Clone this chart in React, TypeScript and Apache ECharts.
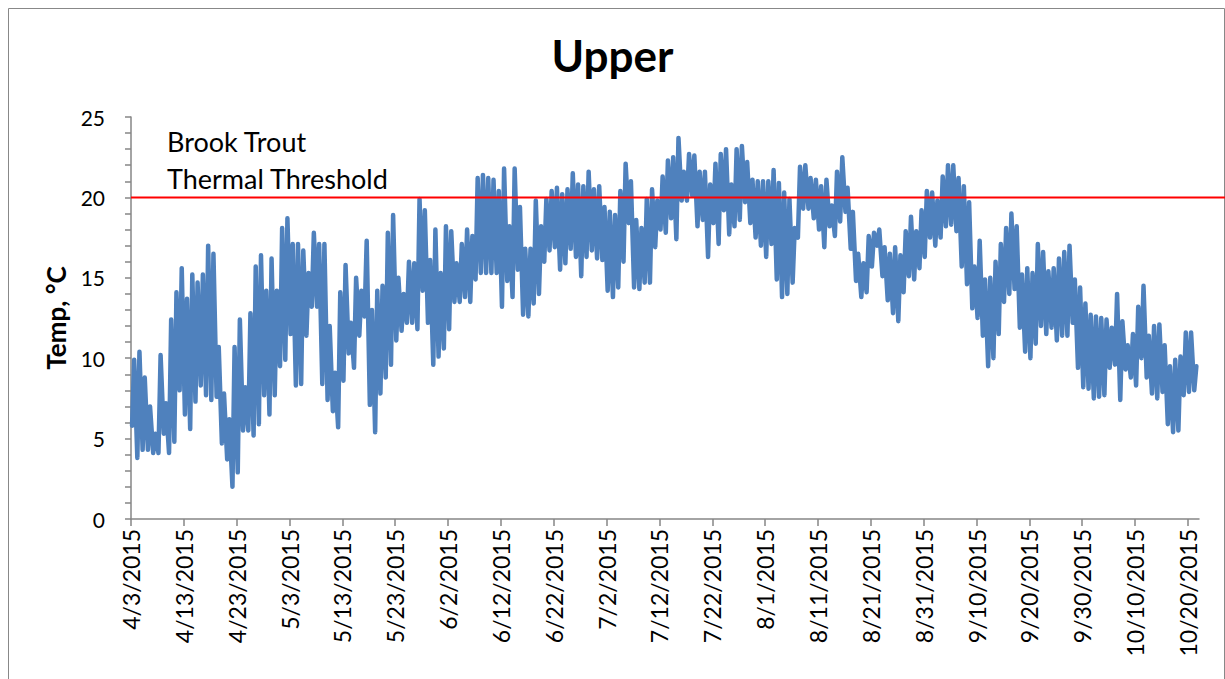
import React, { useEffect, useRef } from "react";
import * as echarts from "echarts";

const chartTitle = "Upper";
const yAxisName = "Temp, °C";
const thresholdText = ["Brook Trout", "Thermal Threshold"];
const thresholdValue = 20;
const xTickLabels = [
  "4/3/2015", "4/13/2015", "4/23/2015", "5/3/2015", "5/13/2015", "5/23/2015",
  "6/2/2015", "6/12/2015", "6/22/2015", "7/2/2015", "7/12/2015", "7/22/2015",
  "8/1/2015", "8/11/2015", "8/21/2015", "8/31/2015", "9/10/2015", "9/20/2015",
  "9/30/2015", "10/10/2015", "10/20/2015",
];

// daily maximum / minimum water temperature, one entry per day starting 4/3/2015
const dailyMax = [
  9.9, 10.4, 8.8, 7.0, 5.3, 10.2, 7.2, 12.4, 14.1, 15.6,
  13.7, 15.2, 14.7, 15.2, 17.0, 16.5, 10.7, 7.8, 6.2, 10.7,
  12.4, 8.2, 12.8, 15.7, 16.4, 14.2, 16.2, 14.2, 18.1, 18.7,
  17.1, 17.1, 16.7, 15.3, 17.8, 17.1, 17.1, 12.0, 9.1, 14.1,
  15.8, 12.2, 15.0, 14.2, 17.3, 13.0, 14.2, 14.5, 17.8, 18.9,
  15.0, 14.0, 16.0, 15.9, 19.9, 19.2, 16.1, 18.0, 15.3, 18.2,
  17.9, 15.9, 17.1, 18.0, 17.6, 21.2, 21.4, 21.2, 21.1, 20.4,
  21.8, 18.2, 21.8, 19.4, 16.8, 16.8, 19.8, 18.2, 19.9, 20.4,
  20.6, 20.2, 20.5, 21.5, 20.8, 20.7, 21.6, 20.5, 20.7, 19.4,
  19.1, 18.9, 20.4, 22.1, 21.0, 18.6, 18.1, 19.9, 20.5, 19.8,
  21.3, 22.3, 22.5, 23.7, 21.6, 22.7, 22.6, 21.6, 21.6, 20.8,
  22.1, 22.7, 23.0, 20.8, 23.0, 23.2, 22.2, 21.1, 21.0, 21.0,
  21.0, 21.7, 20.9, 20.3, 19.9, 18.1, 21.9, 22.0, 21.2, 21.1,
  20.7, 21.1, 19.5, 21.6, 22.5, 20.6, 19.1, 16.5, 15.9, 17.6,
  17.8, 18.0, 16.9, 16.5, 16.9, 16.4, 17.9, 18.8, 17.9, 19.2,
  20.4, 20.3, 19.8, 21.3, 22.0, 22.0, 21.2, 20.7, 19.7, 15.7,
  17.3, 14.9, 15.0, 16.0, 17.1, 18.1, 19.0, 18.2, 15.2, 15.6,
  15.3, 17.1, 16.6, 15.4, 15.6, 16.2, 16.6, 17.0, 14.9, 14.4,
  13.4, 12.7, 12.6, 12.5, 12.4, 11.9, 14.0, 12.3, 10.8, 11.5,
  13.2, 14.5, 11.4, 12.0, 12.1, 10.8, 9.5, 9.9, 10.1, 11.6,
  11.6, 9.5,
];
const dailyMin = [
  5.8, 3.8, 4.3, 4.3, 4.1, 4.1, 5.3, 4.1, 4.8, 8.0,
  6.5, 5.6, 7.3, 8.3, 7.7, 7.4, 7.6, 4.7, 3.7, 2.0,
  2.9, 5.5, 5.5, 5.2, 5.9, 7.7, 6.5, 7.7, 9.5, 9.9,
  11.5, 8.3, 8.4, 11.4, 13.2, 13.2, 8.4, 7.4, 6.7, 5.7,
  8.6, 10.3, 9.4, 11.4, 12.6, 7.1, 5.4, 7.8, 8.8, 9.6,
  11.1, 11.7, 12.2, 12.2, 11.8, 14.2, 12.2, 9.6, 10.1, 10.6,
  11.8, 13.5, 13.5, 13.8, 13.5, 14.9, 15.3, 15.3, 15.3, 15.3,
  13.2, 14.8, 13.8, 15.5, 12.7, 12.6, 13.4, 14.0, 16.0, 16.7,
  16.9, 15.5, 15.9, 16.8, 16.3, 15.1, 16.3, 16.7, 16.2, 16.1,
  14.2, 13.8, 14.4, 16.0, 18.4, 14.4, 14.3, 14.7, 14.7, 16.9,
  18.0, 17.8, 18.7, 17.4, 19.8, 19.8, 20.1, 18.2, 18.6, 16.3,
  18.4, 17.1, 19.2, 17.7, 18.2, 18.6, 19.7, 18.4, 17.5, 17.0,
  16.3, 17.1, 14.9, 13.8, 14.0, 14.7, 17.5, 19.3, 19.3, 18.7,
  18.0, 16.9, 18.2, 17.6, 18.5, 19.1, 16.8, 14.8, 13.8, 14.1,
  15.7, 17.0, 15.1, 13.6, 12.8, 12.3, 14.1, 15.1, 14.9, 15.6,
  16.3, 17.5, 17.0, 17.5, 18.2, 18.3, 17.9, 15.7, 14.6, 13.1,
  12.5, 11.4, 9.5, 10.0, 11.5, 13.5, 14.0, 14.3, 11.9, 10.4,
  10.0, 10.9, 12.0, 11.5, 11.9, 11.1, 11.4, 11.4, 12.2, 9.4,
  8.2, 8.1, 7.5, 7.6, 7.7, 9.4, 9.6, 7.4, 9.3, 8.8,
  8.3, 10.0, 8.8, 7.8, 7.5, 7.9, 5.9, 5.4, 5.5, 7.7,
  7.9, 8.0,
];

const FONT = 'Lato, "Liberation Sans", sans-serif';

export default function App() {
  const ref = useRef<HTMLDivElement>(null);

  useEffect(() => {
    if (!ref.current) return;
    const chart = echarts.init(ref.current, null, { renderer: "svg" });

    const seriesData: [number, number][] = [];
    dailyMax.forEach((mx, i) => {
      seriesData.push([i + 0.2, dailyMin[i]]);
      seriesData.push([i + 0.6, mx]);
    });

    chart.setOption({
      animation: false,
      backgroundColor: "#ffffff",
      title: {
        text: chartTitle,
        left: "center",
        top: 28,
        textStyle: { fontFamily: FONT, fontSize: 44, fontWeight: "bold", color: "#000" },
      },
      grid: { left: 131, right: 26, top: 117, bottom: 160, containLabel: false },
      xAxis: {
        type: "value",
        min: 0,
        max: 202.1,
        interval: 10,
        axisLine: { show: true, lineStyle: { color: "#868686", width: 1.5 } },
        axisTick: { show: true, length: 7, lineStyle: { color: "#868686", width: 1.5 } },
        splitLine: { show: false },
        axisLabel: {
          rotate: 90,
          margin: 10,
          showMaxLabel: false,
          fontFamily: FONT,
          fontSize: 23,
          color: "#000",
          formatter: (v: number) => {
            const idx = Math.round(v / 10);
            return Math.abs(v - idx * 10) < 1e-6 && idx < xTickLabels.length ? xTickLabels[idx] : "";
          },
        },
      },
      yAxis: {
        type: "value",
        min: 0,
        max: 25,
        interval: 5,
        name: yAxisName,
        nameLocation: "middle",
        nameRotate: 90,
        nameGap: 62,
        nameTextStyle: { fontFamily: FONT, fontSize: 26, fontWeight: "bold", color: "#000" },
        axisLine: { show: true, lineStyle: { color: "#868686", width: 1.5 } },
        axisTick: { show: true, length: 6, lineStyle: { color: "#868686", width: 1.5 } },
        minorTick: { show: true, splitNumber: 5, length: 6, lineStyle: { color: "#868686", width: 1.5 } },
        splitLine: { show: false },
        axisLabel: { margin: 26, fontFamily: FONT, fontSize: 21, color: "#000" },
      },
      series: [
        {
          type: "line",
          data: seriesData,
          showSymbol: false,
          symbol: "none",
          lineStyle: { color: "#4F81BD", width: 4.5, cap: "round", join: "round" },
        },
      ],
    });

    const yPix = chart.convertToPixel({ yAxisIndex: 0 }, thresholdValue) as number;
    const xPix = chart.convertToPixel({ xAxisIndex: 0 }, 0) as number;

    chart.setOption({
      graphic: [
        {
          type: "rect",
          left: 6,
          top: 6,
          shape: { width: 1216, height: 690 },
          style: { fill: "none", stroke: "#888", lineWidth: 1 },
          silent: true,
        },
        {
          type: "line",
          shape: { x1: xPix, y1: yPix, x2: 1225, y2: yPix },
          style: { stroke: "#FF0000", lineWidth: 2 },
          silent: true,
          z: 10,
        },
        {
          type: "text",
          left: 167,
          top: 128,
          style: { text: thresholdText[0], font: `27px ${FONT}`, fill: "#000" },
        },
        {
          type: "text",
          left: 167,
          top: 165,
          style: { text: thresholdText[1], font: `27px ${FONT}`, fill: "#000" },
        },
      ],
    });

    return () => chart.dispose();
  }, []);

  return (
    <div
      ref={ref}
      style={{ position: "fixed", left: 0, top: 0, width: 1225, height: 679, background: "#fff" }}
    />
  );
}
